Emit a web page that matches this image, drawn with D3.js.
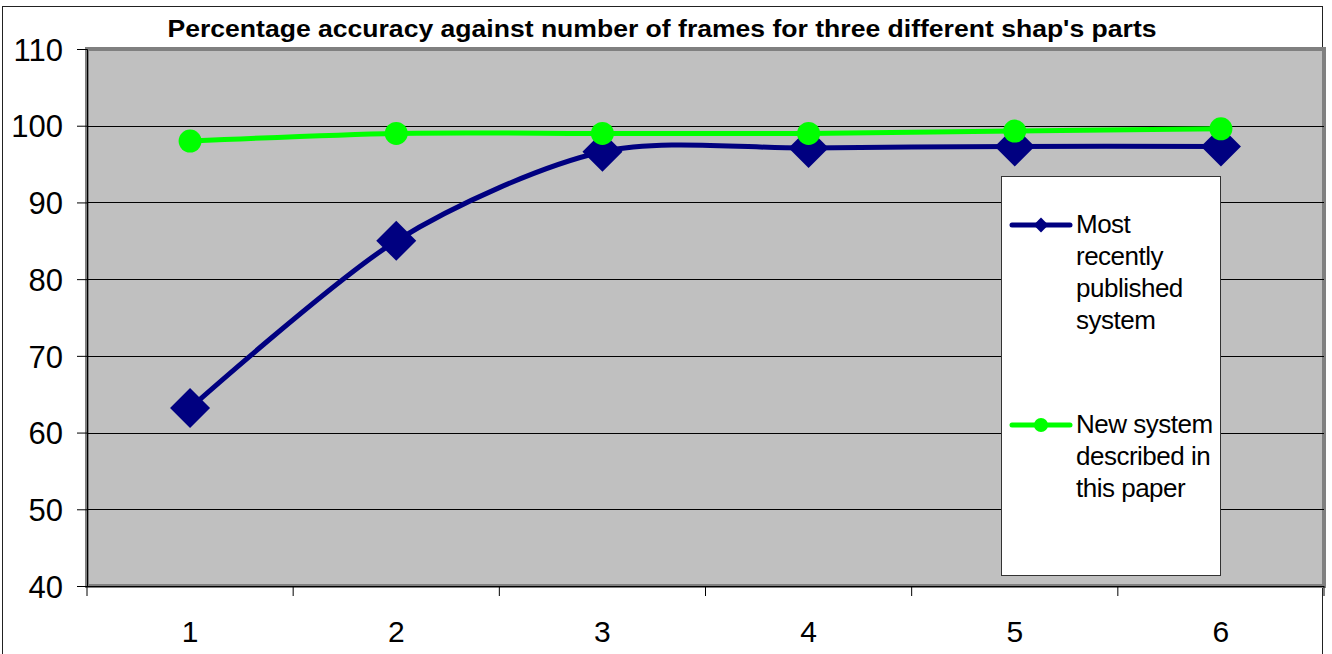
<!DOCTYPE html>
<html lang="en">
<head>
<meta charset="UTF-8">
<title>Percentage accuracy</title>
<style>
  body { margin: 0; background: #fff; }
  svg { display: block; font-family: Arial, "Liberation Sans", sans-serif; }
</style>
</head>
<body>
<svg id="chart" width="1332" height="654"></svg>
<script src="https://d3js.org/d3.v7.min.js"></script>
<script>
  // data
  const frames = ["1", "2", "3", "4", "5", "6"];
  const publishedSystem = [63.2, 85, 96.6, 97.1, 97.3, 97.3];
  const newSystem = [98, 99, 99, 99, 99.3, 99.6];
  const yTicks = [40, 50, 60, 70, 80, 90, 100, 110];
  const seriesNames = [
    ["Most", "recently", "published", "system"],
    ["New system", "described in", "this paper"]
  ];

  const svg = d3.select("#chart");
  const plotLeft = 87, plotRight = 1324, plotTop = 49, plotBottom = 586;

  const x = d3.scaleBand().domain(frames).range([plotLeft, plotRight]);
  const y = d3.scaleLinear().domain([40, 110]).range([plotBottom, plotTop]);

  // outer chart border
  svg.append("rect")
    .attr("x", 2.5).attr("y", 6.5).attr("width", 1320).attr("height", 660)
    .attr("fill", "#fff").attr("stroke", "#222").attr("stroke-width", 1);

  // title
  svg.append("text")
    .attr("x", 662).attr("y", 37)
    .attr("text-anchor", "middle")
    .attr("font-size", 23).attr("font-weight", "bold")
    .attr("textLength", 989).attr("lengthAdjust", "spacingAndGlyphs")
    .text("Percentage accuracy against number of frames for three different shap's parts");

  // plot area
  svg.append("rect")
    .attr("x", plotLeft).attr("y", plotTop)
    .attr("width", plotRight - plotLeft).attr("height", plotBottom - plotTop)
    .attr("fill", "#c0c0c0").attr("stroke", "#808080").attr("stroke-width", 4);

  // gridlines
  svg.append("g").selectAll("line")
    .data(yTicks.filter(d => d > 40 && d < 110))
    .join("line")
    .attr("x1", plotLeft).attr("x2", plotRight)
    .attr("y1", d => Math.round(y(d)) + 0.5).attr("y2", d => Math.round(y(d)) + 0.5)
    .attr("stroke", "#000").attr("stroke-width", 1);

  // y axis
  const yAxis = svg.append("g")
    .attr("transform", `translate(${plotLeft},0)`)
    .call(d3.axisLeft(y).tickValues(yTicks).tickSize(10).tickPadding(14));
  yAxis.select(".domain").attr("stroke", "#000");
  yAxis.selectAll("text").attr("font-size", 31).attr("font-family", "Arial, 'Liberation Sans', sans-serif").attr("fill", "#000").attr("dy", "0.36em");

  // x axis: ticks at category boundaries
  const xAxis = svg.append("g").attr("transform", `translate(0,${plotBottom})`);
  xAxis.append("line")
    .attr("x1", plotLeft).attr("x2", plotRight).attr("y1", 0.5).attr("y2", 0.5)
    .attr("stroke", "#000");
  xAxis.selectAll(".tk")
    .data(frames.map(f => x(f)).concat([plotRight]))
    .join("line").attr("class", "tk")
    .attr("x1", d => d).attr("x2", d => d).attr("y1", 0).attr("y2", 10)
    .attr("stroke", "#000");
  xAxis.selectAll("text")
    .data(frames)
    .join("text")
    .attr("x", d => x(d) + x.bandwidth() / 2)
    .attr("y", 56)
    .attr("text-anchor", "middle")
    .attr("font-size", 30)
    .text(d => d);

  const cx = d => x(d) + x.bandwidth() / 2;
  const line = d3.line()
    .x((d, i) => cx(frames[i]))
    .y(d => y(d))
    .curve(d3.curveCardinal.tension(0.15));

  // published system series
  svg.append("path")
    .attr("d", line(publishedSystem))
    .attr("fill", "none").attr("stroke", "#000080").attr("stroke-width", 5)
    .attr("stroke-linejoin", "round");
  svg.append("g").selectAll("path")
    .data(publishedSystem)
    .join("path")
    .attr("d", d3.symbol(d3.symbolSquare, 800))
    .attr("transform", (d, i) => `translate(${cx(frames[i])},${y(d)}) rotate(45)`)
    .attr("fill", "#000080");

  // new system series
  svg.append("path")
    .attr("d", line(newSystem))
    .attr("fill", "none").attr("stroke", "#00ff00").attr("stroke-width", 5)
    .attr("stroke-linejoin", "round");
  svg.append("g").selectAll("circle")
    .data(newSystem)
    .join("circle")
    .attr("cx", (d, i) => cx(frames[i]))
    .attr("cy", d => y(d))
    .attr("r", 11.5)
    .attr("fill", "#00ff00");

  // legend
  const legend = svg.append("g");
  legend.append("rect")
    .attr("x", 1001.5).attr("y", 176.5).attr("width", 219).attr("height", 399)
    .attr("fill", "#fff").attr("stroke", "#333").attr("stroke-width", 1);

  const entries = [
    { color: "#000080", marker: "diamond", y: 225, lines: seriesNames[0] },
    { color: "#00ff00", marker: "circle", y: 425, lines: seriesNames[1] }
  ];
  entries.forEach(e => {
    legend.append("line")
      .attr("x1", 1012).attr("x2", 1070).attr("y1", e.y).attr("y2", e.y)
      .attr("stroke", e.color).attr("stroke-width", 5).attr("stroke-linecap", "round");
    if (e.marker === "diamond") {
      legend.append("path")
        .attr("d", d3.symbol(d3.symbolSquare, 110))
        .attr("transform", `translate(1041,${e.y}) rotate(45)`)
        .attr("fill", e.color);
    } else {
      legend.append("circle")
        .attr("cx", 1041).attr("cy", e.y).attr("r", 7).attr("fill", e.color);
    }
    legend.append("text")
      .attr("x", 1076).attr("y", e.y + 8)
      .attr("font-size", 26)
      .attr("letter-spacing", -0.5)
      .selectAll("tspan")
      .data(e.lines)
      .join("tspan")
      .attr("x", 1076)
      .attr("dy", (d, i) => i === 0 ? 0 : 32)
      .text(d => d);
  });
</script>
</body>
</html>
